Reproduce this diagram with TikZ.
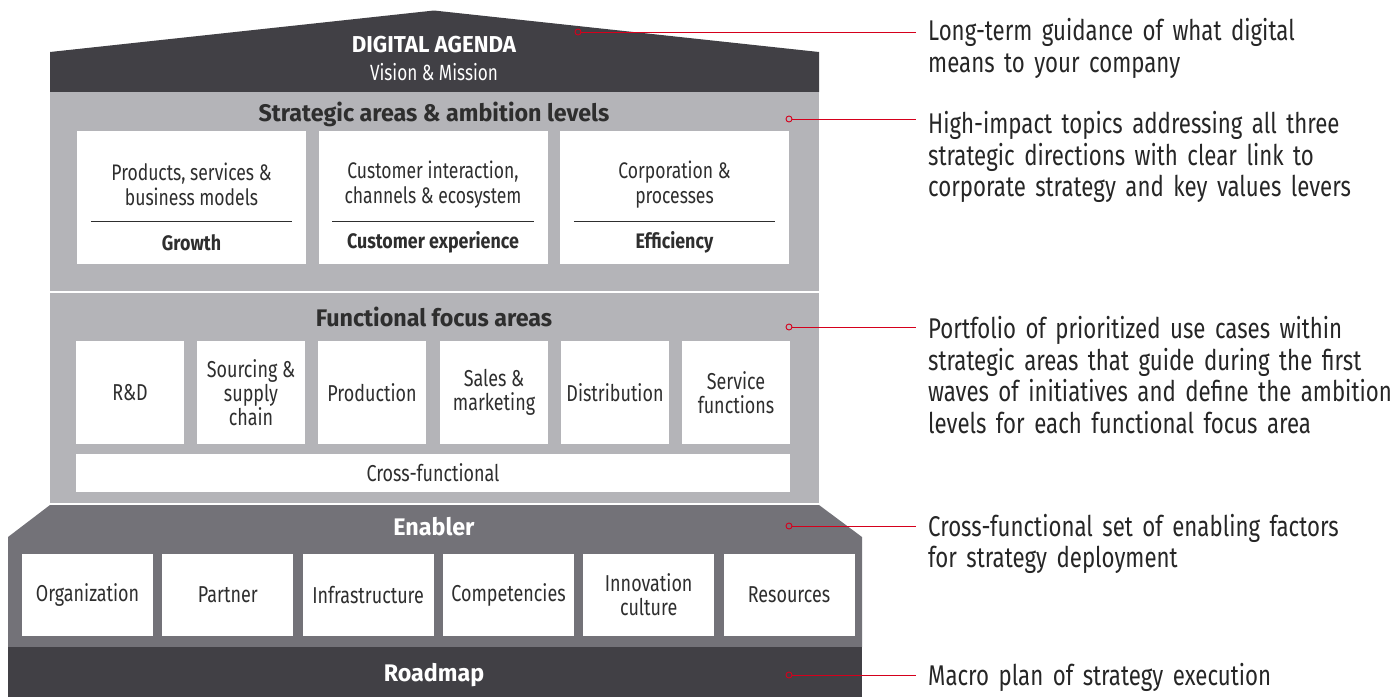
\documentclass[tikz,border=0pt]{standalone}
\usepackage{fontspec}
\setmainfont{Fira Sans}[FakeStretch=0.78]
\newfontfamily\titlef{Fira Sans}[FakeStretch=0.97]
\newfontfamily\labelf{Fira Sans}[FakeStretch=0.85]
\usetikzlibrary{calc}
\definecolor{roofc}{HTML}{414045}
\definecolor{lightc}{HTML}{B4B4B8}
\definecolor{midc}{HTML}{737278}
\definecolor{redc}{HTML}{D5001C}
\definecolor{txt}{HTML}{2E2E2E}
\definecolor{rtxt}{HTML}{262626}
\begin{document}
\begin{tikzpicture}[x=1pt,y=-1pt,
  wbox/.style={fill=white, draw=none, inner sep=0pt, align=center, text=txt, font=\fontsize{23}{24}\selectfont},
  boldlbl/.style={inner sep=0pt, text=txt, font=\labelf\bfseries\fontsize{21}{24}\selectfont},
  boxtxt/.style={inner sep=0pt, align=center, text=txt, font=\fontsize{22.5}{25}\selectfont},
  darktitle/.style={inner sep=0pt, text=txt, font=\titlef\bfseries\fontsize{24}{28}\selectfont},
  whitetitle/.style={inner sep=0pt, text=white, font=\titlef\bfseries\fontsize{24}{28}\selectfont},
  rule/.style={line width=1pt, draw=txt},
  dot/.style={circle, draw=redc, fill=none, line width=0.9pt, minimum size=6pt, inner sep=0pt},
  conn/.style={draw=redc, line width=1pt},
  note/.style={anchor=base west, inner sep=0pt, text=rtxt, align=left, text width=600pt, font=\fontsize{28.5}{31.7}\selectfont},
]
\useasboundingbox (0,0) rectangle (1399,697);

% ---------- roof ----------
\fill[roofc] (50,92) -- (50,52) -- (434,10.5) -- (819,52) -- (819,92) -- cycle;
\node[inner sep=0pt, text=white, font=\titlef\bfseries\fontsize{23}{28}\selectfont] (agenda) at (434,45) {DIGITAL AGENDA};
\node[inner sep=0pt, text=white, font=\fontsize{22}{24}\selectfont] (vision) at (434,72) {Vision \& Mission};

% ---------- strategic areas ----------
\fill[lightc] (50,92) rectangle (819,291);
\node[darktitle] (sttitle) at (434,114) {Strategic areas \& ambition levels};

\foreach \n/\cx/\a/\b in {s1/191.5/{Products, services \&}/{business models},
                          s2/433/{Customer interaction,}/{channels \& ecosystem},
                          s3/674.5/{Corporation \&}/{processes}}{
  \node[wbox, minimum width=229pt, minimum height=133pt] (\n) at (\cx,197.5) {};
  \node[boxtxt] (\n t) at ($(\n.north)+(0,53.5)$) {\a\\\b};
  \draw[rule] ($(\n.north west)+(14,91)$) -- ($(\n.north east)+(-14,91)$);
}
\node[boldlbl] (s1l) at ($(s1.north)+(0,112)$) {Growth};
\node[boldlbl] (s2l) at ($(s2.north)+(0,112)$) {Customer experience};
\node[boldlbl] (s3l) at ($(s3.north)+(0,112)$) {Efficiency};

% ---------- functional focus areas ----------
\fill[lightc] (50,293) rectangle (819,503);
\node[darktitle] (fftitle) at (434,317) {Functional focus areas};
\foreach \n/\cx/\t in {f1/130/{R\&D}, f2/251/{Sourcing \&\\supply\\chain}, f3/372/{Production},
                       f4/494/{Sales \&\\marketing}, f5/615/{Distribution}, f6/736/{Service\\functions}}{
  \node[wbox, minimum width=108pt, minimum height=103pt] (\n) at (\cx,392.5) {\t};
}
\node[wbox, minimum width=714pt, minimum height=38pt] (cross) at (433,473) {Cross-functional};

% ---------- enabler ----------
\fill[midc] (8,647) -- (8,537) -- (50,505) -- (819,505) -- (862,537) -- (862,647) -- cycle;
\node[whitetitle] (entitle) at (434,527) {Enabler};
\foreach \n/\cx/\t in {e1/87.5/{Organization}, e2/227.8/{Partner}, e3/368.1/{Infrastructure},
                       e4/508.5/{Competencies}, e5/648.7/{Innovation\\culture}, e6/789/{Resources}}{
  \node[wbox, minimum width=131pt, minimum height=82pt] (\n) at (\cx,595) {\t};
}

% ---------- roadmap ----------
\fill[roofc] (8,647) rectangle (862,697);
\node[whitetitle] (rmtitle) at (434,675) {Roadmap};

% ---------- annotations ----------
\node[dot] (d1) at (578,32) {};
\node[dot] (d2) at (789,119) {};
\node[dot] (d3) at (789,327) {};
\node[dot] (d4) at (789,526) {};
\node[dot] (d5) at (789,675) {};
\coordinate (c1) at (916,32);
\coordinate (c2) at (916,119);
\coordinate (c3) at (916,327);
\coordinate (c4) at (916,526);
\coordinate (c5) at (916,675);
\draw[conn] (d1.east) -- (c1);
\draw[conn] (d2.east) -- (c2);
\draw[conn] (d3.east) -- (c3);
\draw[conn] (d4.east) -- (c4);
\draw[conn] (d5.east) -- (c5);

\node[note] (n1) at (928,40.7) {Long-term guidance of what digital\\means to your company};
\node[note] (n2) at (928,133.3) {High-impact topics addressing all three\\strategic directions with clear link to\\corporate strategy and key values levers};
\node[note] (n3) at (928,338.3) {Portfolio of prioritized use cases within\\strategic areas that guide during the first\\waves of initiatives and define the ambition\\levels for each functional focus area};
\node[note] (n4) at (928,536) {Cross-functional set of enabling factors\\for strategy deployment};
\node[note] (n5) at (928,685) {Macro plan of strategy execution};
\end{tikzpicture}
\end{document}
